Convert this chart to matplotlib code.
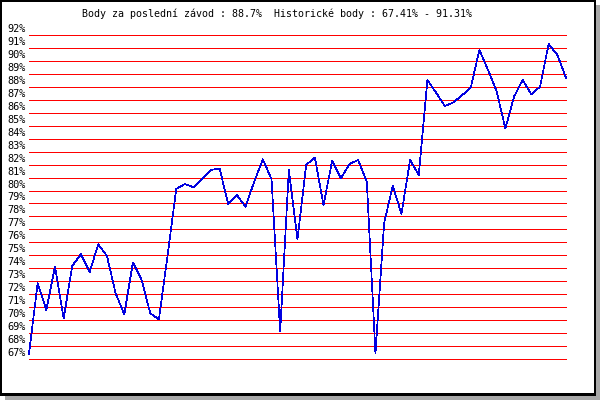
import matplotlib
matplotlib.use("Agg")
import matplotlib.pyplot as plt
from matplotlib.patches import Rectangle

# ---- data ----
values = [67.41, 72.84, 70.78, 74.12, 70.14, 74.20, 75.08, 73.71, 75.85, 74.95,
          72.07, 70.45, 74.45, 73.10, 70.53, 70.06, 75.00, 80.12, 80.50, 80.25,
          80.89, 81.58, 81.71, 78.96, 79.65, 78.75, 80.68, 82.41, 80.87, 69.11,
          81.58, 76.24, 81.97, 82.56, 78.88, 82.28, 80.94, 82.05, 82.35, 80.68,
          67.45, 77.47, 80.37, 78.19, 82.35, 81.20, 88.53, 87.55, 86.52, 86.80,
          87.35, 87.93, 90.84, 89.30, 87.63, 84.80, 87.24, 88.53, 87.42, 88.01,
          91.31, 90.46, 88.70]
grid_levels = list(range(67, 93))
tick_labels = [f"{v}%" for v in grid_levels]
last_value = "88.7%"
hist_range = "67.41% - 91.31%"
title_text = f"Body za poslední závod : {last_value}  Historické body : {hist_range}"

W, H = 600, 400
fig = plt.figure(figsize=(6, 4), dpi=100)
fig.patch.set_facecolor("white")

def fr(x0, y0, x1, y1):
    # pixel box (top-down) -> figure fraction (x, y, w, h)
    return (x0 / W, 1 - y1 / H, (x1 - x0) / W, (y1 - y0) / H)

# shadow
x, y, w, h = fr(5, 5, 600, 400)
fig.patches.append(Rectangle((x, y), w, h, transform=fig.transFigure,
                             facecolor="#a8a8a8", edgecolor="none", zorder=-30))
x, y, w, h = fr(0, 0, 596, 396)
fig.patches.append(Rectangle((x, y), w, h, transform=fig.transFigure,
                             facecolor="black", edgecolor="none", zorder=-20))
x, y, w, h = fr(2, 2, 594, 393)
fig.patches.append(Rectangle((x, y), w, h, transform=fig.transFigure,
                             facecolor="white", edgecolor="none", zorder=-10))

ax = fig.add_axes(fr(29, 35, 566, 359))
ax.set_xlim(0, len(values) - 1)
ax.set_ylim(grid_levels[0], grid_levels[-1])
ax.axis("off")
ax.patch.set_visible(False)

for lv, lab in zip(grid_levels, tick_labels):
    ax.axhline(lv, color="#ff0000", lw=0.72, antialiased=False, clip_on=False)
    ax.annotate(lab, xy=(0, lv), xycoords=ax.get_yaxis_transform(),
                xytext=(-3, 6), textcoords="offset pixels",
                ha="right", va="center", fontsize=7.4,
                family="DejaVu Sans Mono", color="black", annotation_clip=False)

ax.plot(range(len(values)), values, color="#0000e0", lw=0.5,
        antialiased=False, clip_on=False)

fig.text(82 / W, 1 - 14 / H, title_text, ha="left", va="center",
         fontsize=7.2, family="DejaVu Sans Mono", color="black")

fig.savefig("out.png", dpi=100)
